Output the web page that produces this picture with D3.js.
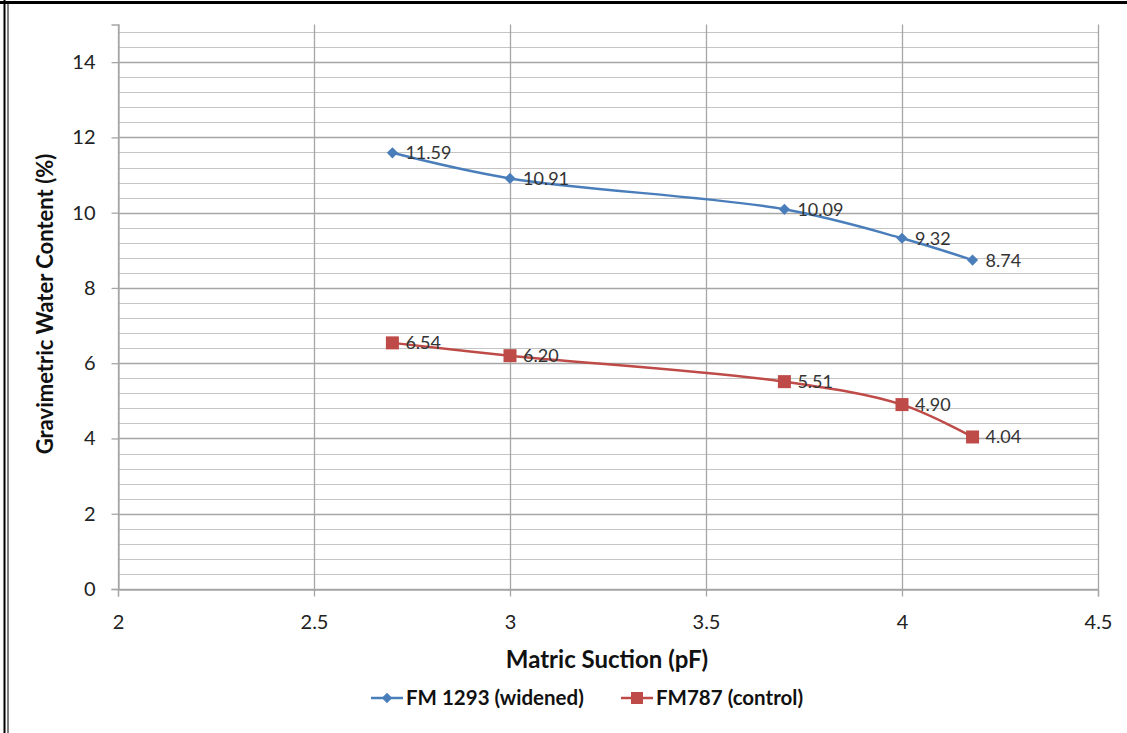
<!DOCTYPE html>
<html><head><meta charset="utf-8">
<script src="https://cdn.jsdelivr.net/npm/d3@7"></script>
<style>body{margin:0;background:#fff}svg{display:block}</style>
</head><body>
<svg id="chart" width="1127" height="733"></svg>
<script>
const suction = [2.7, 3.0, 3.7, 4.0, 4.18];
const widened = [11.59, 10.91, 10.09, 9.32, 8.74];
const control = [6.54, 6.20, 5.51, 4.90, 4.04];
const seriesNames = ["FM 1293 (widened)", "FM787 (control)"];
const xTicks = [2, 2.5, 3, 3.5, 4, 4.5];
const yTicks = [0, 2, 4, 6, 8, 10, 12, 14];

(function(){
const svg = d3.select("#chart");
const font = "Lato, 'Open Sans', sans-serif";
const W = 1127, H = 733;
const pL = 118, pR = 1098, pT = 24.5, pB = 589;
const x = d3.scaleLinear().domain([2, 4.5]).range([pL, pR]);
const y = d3.scaleLinear().domain([0, 15]).range([pB, pT]);

// frame
svg.append("line").attr("x1",0).attr("x2",W).attr("y1",2.5).attr("y2",2.5).attr("stroke","#000").attr("stroke-width",3);
svg.append("line").attr("x1",4.5).attr("x2",4.5).attr("y1",0).attr("y2",H).attr("stroke","#000").attr("stroke-width",2);
svg.append("line").attr("x1",8).attr("x2",8).attr("y1",2).attr("y2",H).attr("stroke","#000").attr("stroke-width",1);

// minor grid
const minor = d3.range(0, 15, 0.4).map(v => +v.toFixed(1));
svg.append("g").selectAll("line").data(minor).join("line")
  .attr("x1", pL).attr("x2", pR)
  .attr("y1", d => Math.round(y(d))+0.5).attr("y2", d => Math.round(y(d))+0.5)
  .attr("stroke", "#c4c4c4").attr("stroke-width", 1);
// major y grid
svg.append("g").selectAll("line").data(yTicks).join("line")
  .attr("x1", pL).attr("x2", pR)
  .attr("y1", d => Math.round(y(d))+0.5).attr("y2", d => Math.round(y(d))+0.5)
  .attr("stroke", "#a6a6a6").attr("stroke-width", 1.3);
// vertical grid
svg.append("g").selectAll("line").data(xTicks).join("line")
  .attr("x1", d => Math.round(x(d))+0.5).attr("x2", d => Math.round(x(d))+0.5)
  .attr("y1", pT).attr("y2", pB)
  .attr("stroke", "#a6a6a6").attr("stroke-width", 1.3);

// axes
const xAxis = svg.append("g").attr("transform", `translate(0,${Math.round(y(0))+0.5})`)
  .call(d3.axisBottom(x).tickValues(xTicks).tickSize(7).tickPadding(18).tickFormat(d3.format("")));
const yAxis = svg.append("g").attr("transform", `translate(${Math.round(x(2))+0.5},0)`)
  .call(d3.axisLeft(y).tickValues(yTicks).tickSize(7).tickPadding(16).tickFormat(d3.format("")));
[xAxis, yAxis].forEach(a => {
  a.select(".domain").attr("stroke", "#a6a6a6").attr("stroke-width", 1.3);
  a.selectAll(".tick line").attr("stroke", "#a6a6a6").attr("stroke-width", 1.3);
  a.selectAll(".tick text").attr("fill", "#222").attr("font-family", font).attr("font-size", 20);
});

// axis titles
svg.append("text").attr("x", 607).attr("y", 668).attr("text-anchor", "middle")
  .attr("font-family", font).attr("font-weight", "bold").attr("font-size", 24).attr("fill", "#111")
  .text("Matric Suction (pF)");
svg.append("text").attr("transform", "translate(53,304) rotate(-90)").attr("text-anchor", "middle")
  .attr("font-family", font).attr("font-weight", "bold").attr("font-size", 22).attr("fill", "#111")
  .text("Gravimetric Water Content (%)");

const colors = ["#4A7EBB", "#BE4B48"];
const allSeries = [widened, control];
const line = d3.line().x((d,i) => x(suction[i])).y(d => y(d)).curve(d3.curveCatmullRom.alpha(0.5));

allSeries.forEach((vals, s) => {
  svg.append("path").datum(vals).attr("d", line).attr("fill", "none")
    .attr("stroke", colors[s]).attr("stroke-width", 2.5);
  const g = svg.append("g");
  if (s === 0) {
    g.selectAll("path").data(vals).join("path")
      .attr("d", d3.symbol(d3.symbolDiamond2, 80))
      .attr("transform", (d,i) => `translate(${x(suction[i])},${y(d)})`)
      .attr("fill", colors[s]);
  } else {
    g.selectAll("rect").data(vals).join("rect")
      .attr("x", (d,i) => x(suction[i]) - 6.5).attr("y", d => y(d) - 6.5)
      .attr("width", 13).attr("height", 13).attr("fill", colors[s]);
  }
  svg.append("g").selectAll("text").data(vals).join("text")
    .attr("x", (d,i) => x(suction[i]) + 13).attr("y", d => y(d))
    .attr("dy", "0.36em")
    .attr("font-family", font).attr("font-size", 18).attr("fill", "#333")
    .text(d => d.toFixed(2));
});

// legend
const legendItems = [{x: 371, i: 0}, {x: 621, i: 1}];
legendItems.forEach(it => {
  const ly = 698;
  svg.append("line").attr("x1", it.x).attr("x2", it.x + 32).attr("y1", ly).attr("y2", ly)
    .attr("stroke", colors[it.i]).attr("stroke-width", 2.5);
  if (it.i === 0) {
    svg.append("path").attr("d", d3.symbol(d3.symbolDiamond2, 70))
      .attr("transform", `translate(${it.x + 16},${ly})`).attr("fill", colors[0]);
  } else {
    svg.append("rect").attr("x", it.x + 16 - 6).attr("y", ly - 6).attr("width", 12).attr("height", 12).attr("fill", colors[1]);
  }
  svg.append("text").attr("x", it.x + 35).attr("y", ly).attr("dy", "0.36em")
    .attr("font-family", font).attr("font-weight", "bold").attr("font-size", 20.5).attr("fill", "#111")
    .text(seriesNames[it.i]);
});
})();
</script>
</body></html>
